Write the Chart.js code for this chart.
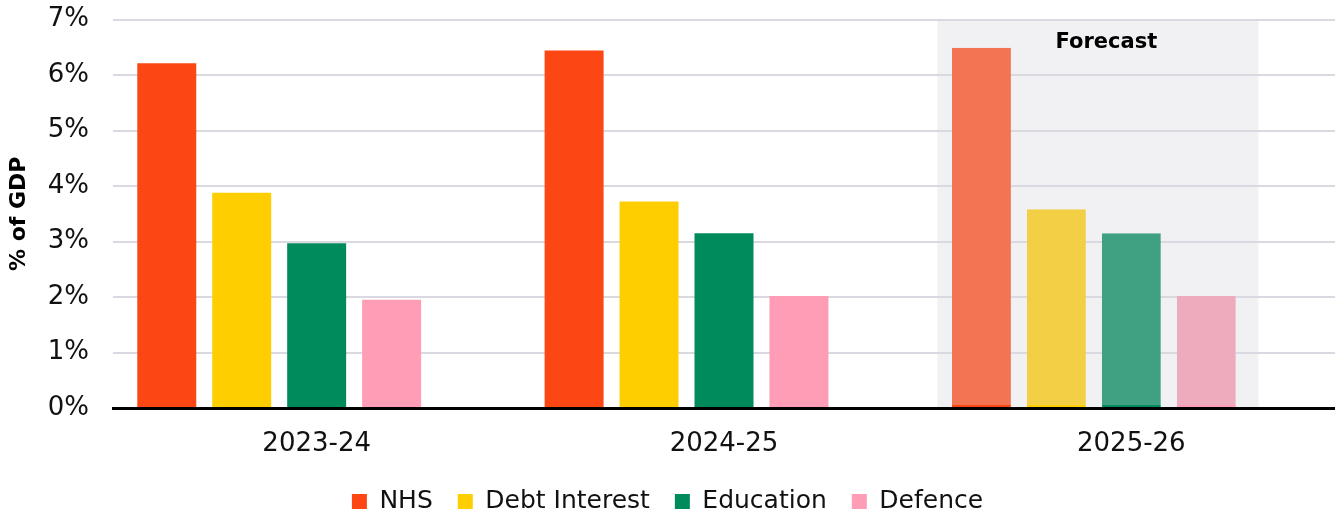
<!DOCTYPE html>
<html>
<head>
<meta charset="utf-8">
<script src="https://cdn.jsdelivr.net/npm/chart.js@4.4.1/dist/chart.umd.min.js"></script>
<style>
  html, body { margin: 0; padding: 0; background: #ffffff; }
  #wrap { width: 1335px; height: 512px; position: relative; }
</style>
</head>
<body>
<div id="wrap"><canvas id="c" width="1335" height="512"></canvas></div>
<script>
const categories = ['2023-24', '2024-25', '2025-26'];
const nhs = [6.21, 6.44, 6.49];
const debtInterest = [3.88, 3.72, 3.58];
const education = [2.97, 3.15, 3.15];
const defence = [1.95, 2.02, 2.02];
const yTicks = [0, 1, 2, 3, 4, 5, 6, 7];
const forecastIndex = 2;
const forecastLabel = 'Forecast';

const baseColors = ['#FC4714', '#FFCE00', '#008B5D', '#FF9CB6'];
const fadedColors = ['#F37452', '#F2CF45', '#3FA182', '#EEABBE'];

function colorsFor(i) {
  return categories.map((c, k) => k === forecastIndex ? fadedColors[i] : baseColors[i]);
}
function bordersFor(i) {
  return categories.map((c, k) => k === forecastIndex ? {top: 0, left: 0, right: 0, bottom: 2} : 0);
}

const FONT = "'DejaVu Sans', sans-serif";

const forecastShade = {
  id: 'forecastShade',
  beforeDraw(chart) {
    const {ctx, chartArea, scales} = chart;
    const x = scales.x;
    const w = (x.right - x.left) / categories.length;
    const cx = x.getPixelForValue(forecastIndex);
    const left = cx - 0.476 * w;
    const right = cx + 0.312 * w;
    ctx.save();
    ctx.fillStyle = '#F1F1F4';
    ctx.fillRect(left, chartArea.top, right - left, chartArea.bottom - chartArea.top);
    ctx.restore();
  },
  afterDatasetsDraw(chart) {
    const {ctx, chartArea, scales} = chart;
    const x = scales.x;
    const cx = x.getPixelForValue(forecastIndex);
    ctx.save();
    ctx.fillStyle = '#000000';
    ctx.font = "bold 21px " + FONT;
    ctx.textAlign = 'center';
    ctx.textBaseline = 'middle';
    ctx.fillText(forecastLabel, cx - 25, chartArea.top + 23);
    ctx.restore();
  }
};

const labels4 = ['NHS', 'Debt Interest', 'Education', 'Defence'];
const series = [nhs, debtInterest, education, defence];

const datasets = series.map((d, i) => ({
  label: labels4[i],
  data: d,
  backgroundColor: colorsFor(i),
  borderColor: baseColors[i],
  borderWidth: bordersFor(i),
  borderSkipped: false,
  categoryPercentage: 0.92,
  barPercentage: 0.787
}));
datasets.push({
  label: '',
  data: categories.map(() => null),
  backgroundColor: 'rgba(0,0,0,0)',
  categoryPercentage: 0.92,
  barPercentage: 0.787
});

new Chart(document.getElementById('c'), {
  type: 'bar',
  data: { labels: categories, datasets },
  options: {
    responsive: false,
    animation: false,
    devicePixelRatio: 1,
    layout: { padding: { top: 0, right: 0, left: 0, bottom: -12 } },
    plugins: {
      legend: {
        position: 'bottom',
        labels: {
          filter: (item) => item.text !== '',
          boxWidth: 15,
          boxHeight: 15,
          padding: 25,
          color: '#111111',
          font: { family: FONT, size: 25 }
        }
      },
      tooltip: { enabled: false }
    },
    scales: {
      x: {
        grid: { display: false },
        border: { display: true, color: '#000000', width: 3 },
        ticks: {
          color: '#111111',
          font: { family: FONT, size: 26 },
          padding: 13
        },
        afterFit(scale) { scale.height = 56; }
      },
      y: {
        min: 0,
        max: 7,
        afterBuildTicks(scale) { scale.ticks = yTicks.map(v => ({ value: v })); },
        afterFit(scale) { scale.width = 113; scale.paddingTop = 19.5; },
        grid: { color: '#DAD9E1', lineWidth: 2, drawTicks: false },
        border: { display: false },
        ticks: {
          color: '#111111',
          font: { family: FONT, size: 26 },
          padding: 24,
          callback: (v) => v + '%'
        },
        title: {
          display: true,
          text: '% of GDP',
          color: '#000000',
          font: { family: FONT, size: 22, weight: 'bold' },
          padding: { top: 6, bottom: 16 }
        }
      }
    }
  },
  plugins: [forecastShade]
});
</script>
</body>
</html>
